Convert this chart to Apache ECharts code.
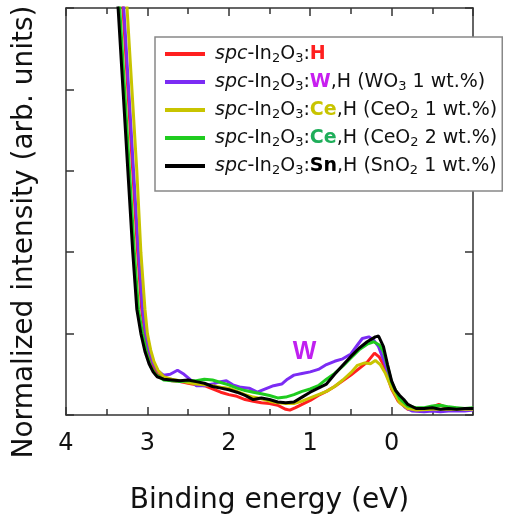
<!DOCTYPE html>
<html>
<head>
<meta charset="utf-8">
<script src="https://cdn.jsdelivr.net/npm/echarts/dist/echarts.min.js"></script>
<style>
  html, body { margin: 0; padding: 0; background: #fff; }
  #chart { width: 514px; height: 524px; }
</style>
</head>
<body>
<div id="chart"></div>
<script>
// Binding energy (eV), normalized intensity
let seriesNames = ['H', 'W', 'Ce1', 'Ce2', 'Sn'];
let seriesColors = ['#ff1f1f', '#7b2cf4', '#c8c400', '#1fcc1f', '#000000'];
let xTicks = [4, 3, 2, 1, 0];

let redData = [
    [3.39, 6.3], [3.30, 5.0], [3.24, 4.0], [3.18, 3.0], [3.12, 2.0], [3.07, 1.3], [3.03, 1.0], [2.99, 0.78], [2.94, 0.62], [2.88, 0.5],
    [2.8, 0.45], [2.7, 0.42], [2.6, 0.41], [2.5, 0.39], [2.4, 0.37], [2.3, 0.36], [2.2, 0.32], [2.1, 0.28], [2.0, 0.25], [1.9, 0.23],
    [1.8, 0.19], [1.7, 0.17], [1.6, 0.15], [1.5, 0.14], [1.4, 0.12], [1.3, 0.07], [1.25, 0.06], [1.18, 0.09], [1.1, 0.13], [1.0, 0.18],
    [0.9, 0.24], [0.8, 0.29], [0.7, 0.35], [0.6, 0.42], [0.5, 0.49], [0.4, 0.57], [0.3, 0.65], [0.21, 0.76], [0.15, 0.71], [0.1, 0.62],
    [0.05, 0.47], [0.0, 0.32], [-0.08, 0.17], [-0.2, 0.07], [-0.3, 0.06], [-0.4, 0.07], [-0.5, 0.10], [-0.58, 0.13], [-0.66, 0.10],
    [-0.8, 0.08], [-0.9, 0.07], [-1.0, 0.07]
];
let purpleData = [
    [3.38, 6.3], [3.29, 5.0], [3.23, 4.0], [3.17, 3.0], [3.11, 2.0], [3.06, 1.3], [3.02, 1.0], [2.98, 0.8], [2.93, 0.64], [2.87, 0.54],
    [2.8, 0.49], [2.72, 0.50], [2.63, 0.55], [2.55, 0.50], [2.48, 0.44], [2.4, 0.36], [2.3, 0.36], [2.2, 0.38], [2.1, 0.41], [2.03, 0.42],
    [1.95, 0.37], [1.85, 0.34], [1.75, 0.33], [1.65, 0.28], [1.55, 0.32], [1.45, 0.36], [1.35, 0.38], [1.28, 0.44], [1.2, 0.49], [1.1, 0.51],
    [1.0, 0.53], [0.9, 0.56], [0.8, 0.62], [0.7, 0.66], [0.6, 0.69], [0.5, 0.75], [0.42, 0.86], [0.36, 0.94], [0.28, 0.96], [0.22, 0.92],
    [0.16, 0.84], [0.1, 0.68], [0.04, 0.50], [-0.02, 0.32], [-0.08, 0.20], [-0.16, 0.10], [-0.25, 0.05], [-0.4, 0.04], [-0.5, 0.05],
    [-0.6, 0.04], [-0.7, 0.05], [-0.8, 0.05], [-0.9, 0.05], [-1.0, 0.06]
];
let yellowData = [
    [3.34, 6.3], [3.25, 5.0], [3.19, 4.0], [3.13, 3.0], [3.08, 2.0], [3.03, 1.3], [3.0, 1.0], [2.96, 0.8], [2.92, 0.66], [2.87, 0.55],
    [2.8, 0.47], [2.7, 0.44], [2.6, 0.42], [2.5, 0.40], [2.4, 0.38], [2.3, 0.37], [2.2, 0.36], [2.1, 0.34], [2.0, 0.33], [1.9, 0.29],
    [1.8, 0.25], [1.7, 0.22], [1.6, 0.20], [1.5, 0.17], [1.4, 0.15], [1.3, 0.14], [1.2, 0.14], [1.1, 0.17], [1.0, 0.21], [0.9, 0.25],
    [0.8, 0.29], [0.7, 0.35], [0.6, 0.43], [0.5, 0.52], [0.42, 0.61], [0.33, 0.64], [0.26, 0.63], [0.2, 0.67], [0.14, 0.62], [0.08, 0.52],
    [0.0, 0.33], [-0.1, 0.15], [-0.2, 0.08], [-0.3, 0.06], [-0.5, 0.07], [-0.7, 0.07], [-1.0, 0.07]
];
let greenData = [
    [3.43, 6.3], [3.34, 5.0], [3.28, 4.0], [3.22, 3.0], [3.16, 2.0], [3.11, 1.3], [3.06, 1.0], [3.01, 0.76], [2.96, 0.6], [2.9, 0.5],
    [2.8, 0.43], [2.7, 0.42], [2.6, 0.41], [2.5, 0.42], [2.4, 0.42], [2.3, 0.44], [2.2, 0.43], [2.1, 0.40], [2.0, 0.37], [1.9, 0.33],
    [1.8, 0.30], [1.7, 0.28], [1.6, 0.26], [1.5, 0.24], [1.4, 0.21], [1.3, 0.22], [1.2, 0.25], [1.1, 0.29], [1.0, 0.32], [0.9, 0.36],
    [0.8, 0.44], [0.7, 0.51], [0.6, 0.60], [0.5, 0.70], [0.4, 0.80], [0.3, 0.87], [0.22, 0.90], [0.15, 0.86], [0.1, 0.78], [0.05, 0.60],
    [0.0, 0.40], [-0.1, 0.20], [-0.2, 0.11], [-0.3, 0.09], [-0.4, 0.09], [-0.5, 0.11], [-0.6, 0.12], [-0.7, 0.10], [-0.8, 0.09],
    [-0.9, 0.08], [-1.0, 0.09]
];
let blackData = [
    [3.45, 6.3], [3.36, 5.0], [3.30, 4.0], [3.24, 3.0], [3.18, 2.0], [3.13, 1.3], [3.08, 1.0], [3.03, 0.78], [2.98, 0.63], [2.93, 0.53],
    [2.88, 0.47], [2.8, 0.44], [2.7, 0.43], [2.6, 0.42], [2.5, 0.43], [2.4, 0.41], [2.3, 0.39], [2.2, 0.35], [2.1, 0.33], [2.0, 0.31],
    [1.9, 0.28], [1.8, 0.24], [1.7, 0.19], [1.6, 0.21], [1.5, 0.19], [1.4, 0.16], [1.3, 0.15], [1.2, 0.16], [1.1, 0.22], [1.0, 0.28],
    [0.9, 0.33], [0.8, 0.38], [0.7, 0.50], [0.6, 0.61], [0.5, 0.72], [0.4, 0.82], [0.3, 0.90], [0.2, 0.96], [0.16, 0.97], [0.1, 0.84],
    [0.05, 0.62], [0.0, 0.42], [-0.05, 0.30], [-0.1, 0.24], [-0.15, 0.19], [-0.2, 0.13], [-0.3, 0.08], [-0.4, 0.08], [-0.5, 0.09],
    [-0.6, 0.07], [-0.7, 0.08], [-0.8, 0.07], [-0.9, 0.08], [-1.0, 0.08]
];
let allData = [redData, purpleData, yellowData, greenData, blackData];

// legend texts (rich text)
let base = '{it|spc}-In{sub|2}O{sub|3}:';
let legendLabels = {
    'H': base + '{h|H}',
    'W': base + '{w|W},H (WO{sub|3} 1 wt.%)',
    'Ce1': base + '{ce1|Ce},H (CeO{sub|2} 1 wt.%)',
    'Ce2': base + '{ce2|Ce},H (CeO{sub|2} 2 wt.%)',
    'Sn': base + '{sn|Sn},H (SnO{sub|2} 1 wt.%)'
};

let font = 'DejaVu Sans, Liberation Sans, sans-serif';

function xAxisOpt(pos) {
    return {
        type: 'value',
        position: pos,
        min: -1,
        max: 4,
        interval: 1,
        inverse: true,
        axisLine: { show: true, onZero: false, lineStyle: { color: '#333', width: 1.5 } },
        axisTick: { show: true, inside: true, length: 8, lineStyle: { color: '#333', width: 1.5 } },
        minorTick: { show: true, splitNumber: 2, length: 6, lineStyle: { color: '#333', width: 1.5 } },
        splitLine: { show: false }
    };
}
function yAxisOpt(pos) {
    return {
        type: 'value',
        position: pos,
        min: 0,
        max: 5,
        interval: 1,
        axisLine: { show: true, onZero: false, lineStyle: { color: '#333', width: 1.5 } },
        axisTick: { show: true, inside: true, length: 8, lineStyle: { color: '#333', width: 1.5 } },
        axisLabel: { show: false },
        splitLine: { show: false }
    };
}

let xBottom = xAxisOpt('bottom');
xBottom.name = 'Binding energy (eV)';
xBottom.nameLocation = 'middle';
xBottom.nameGap = 72;
xBottom.nameTextStyle = { fontSize: 28, color: '#111', fontFamily: font };
xBottom.axisLabel = {
    show: true,
    margin: 17,
    fontSize: 24,
    color: '#111',
    fontFamily: font,
    formatter: function(v) { return xTicks.indexOf(v) >= 0 ? String(v) : ''; }
};
let xTop = xAxisOpt('top');
xTop.axisLabel = { show: false };

let chart = echarts.init(document.getElementById('chart'));

chart.setOption({
    animation: false,
    grid: { left: 66, right: 41, top: 8, bottom: 109 },
    xAxis: [xBottom, xTop],
    yAxis: [yAxisOpt('left'), yAxisOpt('right')],
    graphic: [{
        type: 'text',
        x: 25,
        y: 232,
        rotation: Math.PI / 2,
        style: {
            text: 'Normalized intensity (arb. units)',
            align: 'center',
            verticalAlign: 'middle',
            fontSize: 28,
            fontFamily: font,
            fill: '#111'
        }
    }],
    legend: {
        left: 155,
        top: 37,
        orient: 'vertical',
        selectedMode: false,
        backgroundColor: '#fff',
        borderColor: '#888',
        borderWidth: 1.5,
        padding: [6, 5, 14, 10],
        itemGap: 6,
        itemWidth: 40,
        itemHeight: 4,
        icon: 'rect',
        data: seriesNames,
        formatter: function(name) { return legendLabels[name]; },
        textStyle: {
            fontSize: 19,
            lineHeight: 22,
            color: '#111',
            fontFamily: font,
            padding: [0, 0, 0, 5],
            rich: {
                it: { fontStyle: 'italic', fontSize: 19, lineHeight: 22, color: '#111', fontFamily: font },
                sub: { fontSize: 13, lineHeight: 14, verticalAlign: 'bottom', color: '#111', fontFamily: font },
                h: { fontSize: 19, lineHeight: 22, fontWeight: 'bold', color: '#ff1f1f', fontFamily: font },
                w: { fontSize: 19, lineHeight: 22, fontWeight: 'bold', color: '#c81ef0', fontFamily: font },
                ce1: { fontSize: 19, lineHeight: 22, fontWeight: 'bold', color: '#c8c400', fontFamily: font },
                ce2: { fontSize: 19, lineHeight: 22, fontWeight: 'bold', color: '#1fae5a', fontFamily: font },
                sn: { fontSize: 19, lineHeight: 22, fontWeight: 'bold', color: '#000', fontFamily: font }
            }
        }
    },
    series: seriesNames.map(function(name, i) {
        let s = {
            name: name,
            type: 'line',
            data: allData[i],
            showSymbol: false,
            symbol: 'none',
            clip: true,
            color: seriesColors[i],
            lineStyle: { color: seriesColors[i], width: 3 },
            z: 2 + i
        };
        if (name === 'W') {
            s.markPoint = {
                symbol: 'circle',
                symbolSize: 1,
                itemStyle: { color: 'rgba(0,0,0,0)' },
                label: {
                    show: true,
                    position: 'inside',
                    formatter: 'W',
                    fontSize: 25,
                    fontWeight: 'bold',
                    color: '#c020f0',
                    fontFamily: 'Liberation Sans, sans-serif'
                },
                data: [{ coord: [1.07, 0.77] }]
            };
        }
        return s;
    })
});
</script>
</body>
</html>
